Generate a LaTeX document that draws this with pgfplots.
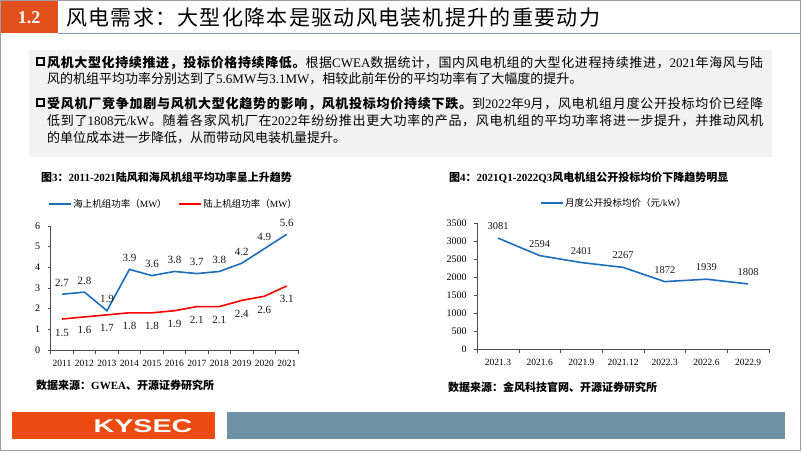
\documentclass[border=0pt]{standalone}
\usepackage{fontspec}
\usepackage{graphicx}
\usepackage{pgfplots}
\pgfplotsset{compat=1.18}
\setmainfont{Liberation Serif}
\setsansfont{Liberation Sans}
\newfontfamily\cjk{Noto Sans CJK SC}
\def\cjkgap{0pt}
\XeTeXinterchartokenstate=1
\newXeTeXintercharclass\CJKcls
\makeatletter
\count@="2E80
\loop
  \XeTeXcharclass\count@=\CJKcls
  \ifnum\count@<"9FFF \advance\count@\@ne
\repeat
\count@="FF00
\loop
  \XeTeXcharclass\count@=\CJKcls
  \ifnum\count@<"FFEF \advance\count@\@ne
\repeat
\makeatother
\XeTeXinterchartoks 0 \CJKcls = {\cjk}
\XeTeXinterchartoks 4095 \CJKcls = {\cjk}
\XeTeXinterchartoks \CJKcls 0 = {\rmfamily}
\XeTeXinterchartoks \CJKcls 4095 = {\rmfamily}
\XeTeXinterchartoks \CJKcls \CJKcls = {\hskip\cjkgap plus 1pt\relax}

\definecolor{hdrorange}{RGB}{226,80,30}
\definecolor{kyorange}{RGB}{236,74,14}
\definecolor{kyblue}{RGB}{111,145,164}
\definecolor{linegray}{RGB}{128,155,178}
\definecolor{boxgray}{RGB}{242,242,242}
\definecolor{sblue}{RGB}{30,110,185}
\definecolor{sred}{RGB}{255,0,0}

\pgfplotsset{
  /pgf/number format/assume math mode=true,
  /pgf/number format/1000 sep={},
  slidechart/.style={
    scale only axis, anchor=south west, clip=false,
    axis x line*=bottom, axis y line*=left,
    axis line style={black!70, line width=0.6pt},
    major x tick style={draw=none},
    minor x tick style={black!70, line width=0.6pt},
    major y tick style={black!70, line width=0.6pt},
    tick align=outside,
    major tick length=3pt, minor tick length=4pt,
    x tick label style={font=\fontsize{9.5}{11}\selectfont, yshift=-3.5pt, text=black},
    y tick label style={font=\fontsize{10}{12}\selectfont, xshift=-4pt, text=black},
    legend style={draw=none, fill=none, anchor=west, font=\fontsize{9.5}{11}\selectfont,
      inner sep=0pt, nodes={inner sep=1.5pt},
      /tikz/every even column/.append style={column sep=10pt}},
    legend image code/.code={\draw[##1] (0pt,0pt) -- (22pt,0pt);},
    nodes near coords,
    every node near coord/.append style={inner sep=0pt, anchor=base, text=black!90},
  }
}

\begin{document}
\begin{tikzpicture}
\begin{scope}[x=1pt,y=-1pt]
\path[use as bounding box] (0,0) rectangle (802,452);
\fill[white] (0,0) rectangle (802,452);
\draw[gray!75, line width=1pt] (0.5,0.5) rectangle (800.5,450.5);
% header
\fill[hdrorange] (0.5,1) rectangle (58,33);
\node[text=white, font=\fontsize{18}{20}\selectfont\bfseries] at (29,17.5) {1.2};
\draw[linegray, line width=1.3pt] (58,33.3) -- (800.5,33.3);
\node[anchor=west, inner sep=0, font=\fontsize{21}{23}\selectfont] at (66,18) {\def\cjkgap{1.3pt}风电需求：大型化降本是驱动风电装机提升的重要动力};
% text box
\fill[boxgray] (29,50) rectangle (772,157);
\draw[line width=1.2pt] (37,58) rectangle (44,65);
\draw[line width=1.2pt] (37,99) rectangle (44,106);
\node[anchor=base west, inner sep=0] at (47,67) {\parbox[t]{716pt}{\fontsize{13}{16}\selectfont
\textbf{风机大型化持续推进，投标价格持续降低。}根据CWEA数据统计，国内风电机组的大型化进程持续推进，2021年海风与陆\linebreak
风的机组平均功率分别达到了5.6MW与3.1MW，相较此前年份的平均功率有了大幅度的提升。}};
\node[anchor=base west, inner sep=0] at (47,108) {\parbox[t]{716pt}{\fontsize{13}{17}\selectfont
\textbf{受风机厂竞争加剧与风机大型化趋势的影响，风机投标均价持续下跌。}到2022年9月，风电机组月度公开投标均价已经降\linebreak
低到了1808元/kW。随着各家风机厂在2022年纷纷推出更大功率的产品，风电机组的平均功率将进一步提升，并推动风机\linebreak
的单位成本进一步降低，从而带动风电装机量提升。}};
% chart titles and sources
\node[anchor=west, inner sep=0, font=\fontsize{11}{13}\selectfont\bfseries] at (41,177) {图3：2011-2021陆风和海风机组平均功率呈上升趋势};
\node[anchor=west, inner sep=0, font=\fontsize{11}{13}\selectfont\bfseries] at (449,178) {图4：2021Q1-2022Q3风电机组公开投标均价下降趋势明显};
\node[anchor=west, inner sep=0, font=\fontsize{11}{13}\selectfont\bfseries] at (36,385) {数据来源：GWEA、开源证券研究所};
\node[anchor=west, inner sep=0, font=\fontsize{11}{13}\selectfont\bfseries] at (448,387) {数据来源：金风科技官网、开源证券研究所};
% footer
\fill[kyorange] (12,412) rectangle (215,439);
\fill[kyblue] (227,412) rectangle (785,439);
\node[text=white, inner sep=0, font=\sffamily\bfseries\fontsize{18.5}{20}\selectfont] at (143,426) {\scalebox{1.55}[1]{KYSEC}};
\end{scope}

% chart 1
\begin{axis}[slidechart,
  at={(50.75pt,-350pt)}, width=247.25pt, height=124pt,
  xmin=-0.5, xmax=10.5, ymin=0, ymax=6,
  xtick={0,...,10},
  xticklabels={2011,2012,2013,2014,2015,2016,2017,2018,2019,2020,2021},
  minor xtick={-0.5,0.5,...,10.5},
  ytick={0,...,6},
  legend style={at={(-0.011,1.177)}},
  legend columns=2,
  every node near coord/.append style={font=\fontsize{11}{13}\selectfont},
]
\addplot[sblue, line width=1.6pt, mark=none, every node near coord/.append style={yshift=8pt}]
  coordinates {(0,2.7)(1,2.8)(2,1.9)(3,3.9)(4,3.6)(5,3.8)(6,3.7)(7,3.8)(8,4.2)(9,4.9)(10,5.6)};
\addlegendentry{海上机组功率（MW）}
\addplot[sred, line width=1.6pt, mark=none, every node near coord/.append style={yshift=-17pt}]
  coordinates {(0,1.5)(1,1.6)(2,1.7)(3,1.8)(4,1.8)(5,1.9)(6,2.1)(7,2.1)(8,2.4)(9,2.6)(10,3.1)};
\addlegendentry{陆上机组功率（MW）}
\end{axis}

% chart 2
\begin{axis}[slidechart,
  at={(477.2pt,-349pt)}, width=291.8pt, height=126pt,
  xmin=-0.5, xmax=6.5, ymin=0, ymax=3500,
  xtick={0,...,6},
  xticklabels={2021.3,2021.6,2021.9,2021.12,2022.3,2022.6,2022.9},
  minor xtick={-0.5,0.5,...,6.5},
  ytick={0,500,...,3500},
  scaled y ticks=false,
  legend style={at={(0.215,1.159)}},
  every node near coord/.append style={font=\fontsize{10.5}{12}\selectfont},
]
\addplot[sblue, line width=1.6pt, mark=none, every node near coord/.append style={yshift=8.5pt}]
  coordinates {(0,3081)(1,2594)(2,2401)(3,2267)(4,1872)(5,1939)(6,1808)};
\addlegendentry{月度公开投标均价（元/kW）}
\end{axis}
\end{tikzpicture}
\end{document}
